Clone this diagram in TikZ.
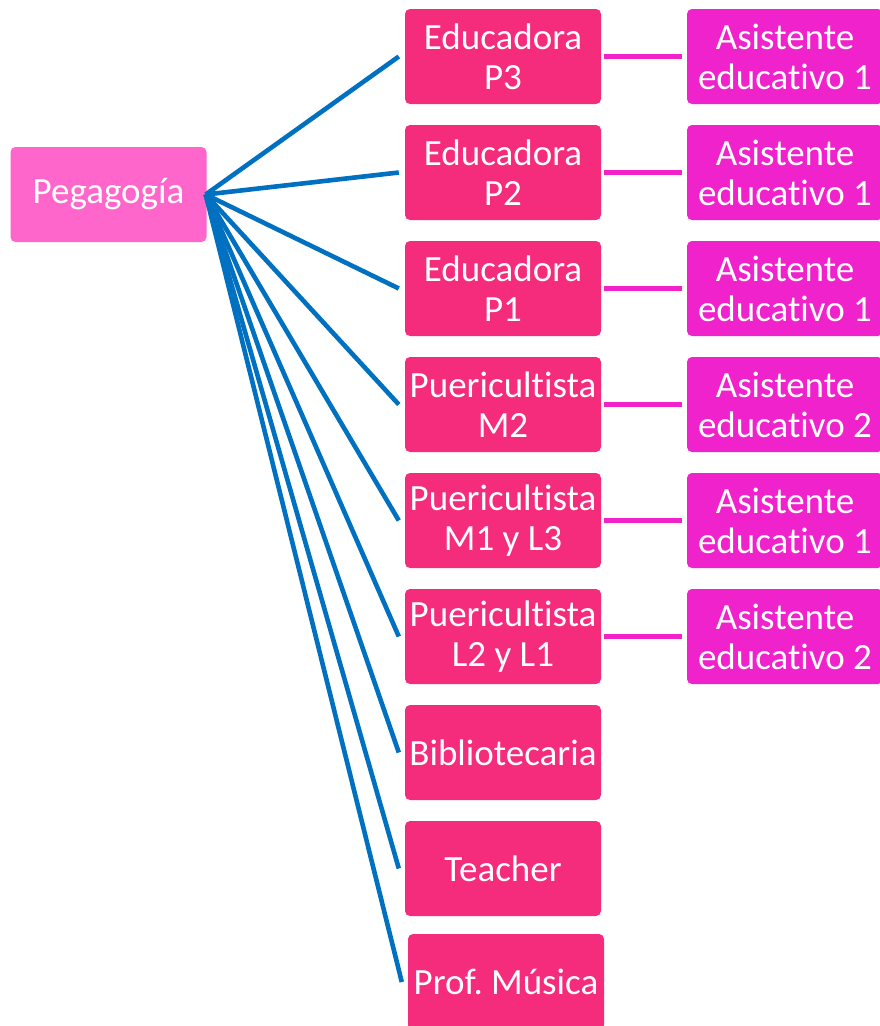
\documentclass[tikz,border=0pt]{standalone}
\usepackage{fontspec}
\setmainfont{Carlito}[Ligatures=NoCommon]
\definecolor{rootpink}{HTML}{FF66CC}
\definecolor{edupink}{HTML}{F52B7B}
\definecolor{asispink}{HTML}{EF22CC}
\definecolor{linkblue}{HTML}{0070C0}
\frenchspacing
\begin{document}
\begin{tikzpicture}[x=1pt,y=-1pt,
  box/.style={rectangle,rounded corners=5pt,minimum width=196pt,minimum height=95pt,inner sep=0pt,text=white,align=center,font=\fontsize{37}{40}\selectfont},
  rootbox/.style={box,fill=rootpink},
  edubox/.style={box,fill=edupink},
  asisbox/.style={box,fill=asispink},
  bluelink/.style={draw=linkblue,line width=4.6pt},
  pinklink/.style={draw=asispink,line width=4.6pt}]
\useasboundingbox (0,0) rectangle (880,1026);
\node[rootbox] (root) at (108.5,194.5) {Pegagog\'ia};
\node[edubox] (e1) at (503,56.5) {Educadora\\P3};
\node[edubox] (e2) at (503,172.5) {Educadora\\P2};
\node[edubox] (e3) at (503,288.5) {Educadora\\P1};
\node[edubox] (e4) at (503,404.5) {Puericultista\\M2};
\node[edubox] (e5) at (503,520.5) {Puericultista\\M1 y L3};
\node[edubox] (e6) at (503,636.5) {Puericultista\\L2 y L1};
\node[edubox] (e7) at (503,752.5) {Bibliotecaria};
\node[edubox] (e8) at (503,868.5) {Teacher};
\node[edubox,minimum height=96pt] (e9) at (506,982) {Prof. M\'usica};
\node[asisbox] (a1) at (785,56.5) {Asistente\\educativo 1};
\node[asisbox] (a2) at (785,172.5) {Asistente\\educativo 1};
\node[asisbox] (a3) at (785,288.5) {Asistente\\educativo 1};
\node[asisbox] (a4) at (785,404.5) {Asistente\\educativo 2};
\node[asisbox] (a5) at (785,520.5) {Asistente\\educativo 1};
\node[asisbox] (a6) at (785,636.5) {Asistente\\educativo 2};
\coordinate (src) at ([xshift=-1pt]root.east);
\foreach \i in {1,...,9}{
  \draw[bluelink] (src) -- ([xshift=-6pt]e\i.west);
}
\foreach \i in {1,...,6}{
  \draw[pinklink] ([xshift=3pt]e\i.east) -- ([xshift=-5pt]a\i.west);
}
\end{tikzpicture}
\end{document}
